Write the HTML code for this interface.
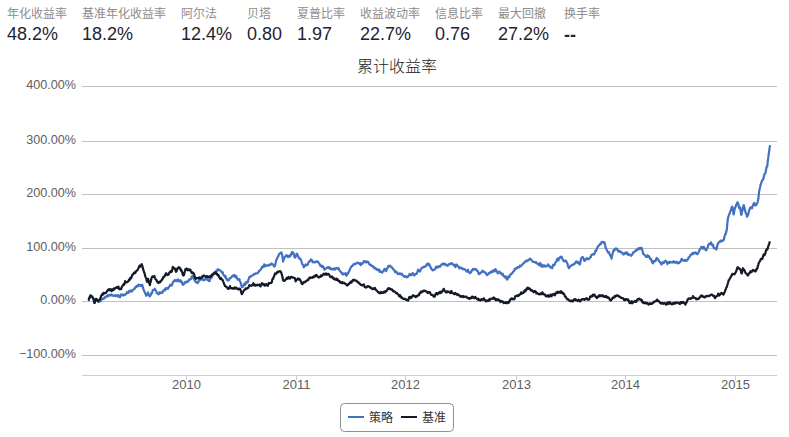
<!DOCTYPE html>
<html><head><meta charset="utf-8"><style>
html,body{margin:0;padding:0;background:#fff;width:789px;height:437px;overflow:hidden;}
body{position:relative;font-family:"Liberation Sans","Noto Sans CJK SC",sans-serif;}
.st{position:absolute;top:0;}
.lb{position:absolute;top:5.5px;left:0;white-space:nowrap;font-size:12px;line-height:16px;color:#8c8c8c;}
.vl{position:absolute;top:23px;left:0;white-space:nowrap;font-size:18px;line-height:22px;color:#1f2430;}
svg{position:absolute;left:0;top:0;}
.gl{stroke:#c0c0c0;stroke-width:1;}
.tk{stroke:#c0d0e0;stroke-width:1;}
.yl{font-family:"Liberation Sans",sans-serif;font-size:12.6px;fill:#606060;text-anchor:end;}
.xl{font-family:"Liberation Sans",sans-serif;font-size:13px;fill:#606060;text-anchor:middle;}
.tt{font-family:"Liberation Sans","Noto Sans CJK SC",sans-serif;font-size:16px;font-weight:300;fill:#222;text-anchor:middle;}
.lg{font-family:"Liberation Sans","Noto Sans CJK SC",sans-serif;font-size:12px;fill:#333;}
</style></head><body>
<div class="st" style="left:7px"><div class="lb">年化收益率</div><div class="vl">48.2%</div></div>
<div class="st" style="left:82px"><div class="lb">基准年化收益率</div><div class="vl">18.2%</div></div>
<div class="st" style="left:181px"><div class="lb">阿尔法</div><div class="vl">12.4%</div></div>
<div class="st" style="left:247px"><div class="lb">贝塔</div><div class="vl">0.80</div></div>
<div class="st" style="left:297px"><div class="lb">夏普比率</div><div class="vl">1.97</div></div>
<div class="st" style="left:360px"><div class="lb">收益波动率</div><div class="vl">22.7%</div></div>
<div class="st" style="left:435px"><div class="lb">信息比率</div><div class="vl">0.76</div></div>
<div class="st" style="left:498px"><div class="lb">最大回撤</div><div class="vl">27.2%</div></div>
<div class="st" style="left:564px"><div class="lb">换手率</div><div class="vl"><span style="position:relative;top:1px;font-weight:bold">--</span></div></div>
<svg width="789" height="437" viewBox="0 0 789 437">
<text x="397" y="72" class="tt">累计收益率</text>
<line x1="82" x2="777" y1="86.5" y2="86.5" class="gl"/>
<line x1="82" x2="777" y1="141.5" y2="141.5" class="gl"/>
<line x1="82" x2="777" y1="194.5" y2="194.5" class="gl"/>
<line x1="82" x2="777" y1="248.5" y2="248.5" class="gl"/>
<line x1="82" x2="777" y1="301.5" y2="301.5" class="gl"/>
<line x1="82" x2="777" y1="355.5" y2="355.5" class="gl"/>
<line x1="82" x2="777" y1="375.5" y2="375.5" stroke="#c0d0e0" stroke-width="1"/>
<line x1="186.5" x2="186.5" y1="375" y2="380" class="tk"/>
<line x1="296.5" x2="296.5" y1="375" y2="380" class="tk"/>
<line x1="405.5" x2="405.5" y1="375" y2="380" class="tk"/>
<line x1="516.5" x2="516.5" y1="375" y2="380" class="tk"/>
<line x1="625.5" x2="625.5" y1="375" y2="380" class="tk"/>
<line x1="735.5" x2="735.5" y1="375" y2="380" class="tk"/>
<text x="76" y="89.0" class="yl">400.00%</text>
<text x="76" y="144.0" class="yl">300.00%</text>
<text x="76" y="197.0" class="yl">200.00%</text>
<text x="76" y="251.0" class="yl">100.00%</text>
<text x="76" y="304.0" class="yl">0.00%</text>
<text x="76" y="358.0" class="yl">−100.00%</text>
<text x="186.5" y="389" class="xl">2010</text>
<text x="296.5" y="389" class="xl">2011</text>
<text x="405.5" y="389" class="xl">2012</text>
<text x="516.5" y="389" class="xl">2013</text>
<text x="625.5" y="389" class="xl">2014</text>
<text x="735.5" y="389" class="xl">2015</text>
<polyline fill="none" stroke="#4371c2" stroke-width="2.2" stroke-linejoin="round" points="88.2,300.1 88.7,300.0 89.1,298.3 89.6,297.8 90.0,296.4 90.5,295.4 90.9,296.5 91.4,296.1 91.8,296.2 92.3,297.0 92.7,297.8 93.2,298.1 93.6,299.4 94.1,300.8 94.5,303.0 95.0,301.9 95.4,300.3 95.9,299.3 96.3,298.8 96.8,299.7 97.2,300.3 97.7,300.8 98.1,301.6 98.6,300.5 99.0,300.2 99.5,301.7 99.9,300.9 100.4,301.3 100.8,300.5 101.3,300.4 101.7,299.3 102.2,298.6 102.6,298.5 103.1,298.5 103.5,298.9 104.0,298.6 104.4,297.9 104.9,297.2 105.3,296.8 105.8,297.3 106.2,296.3 106.7,296.3 107.1,296.3 107.6,295.2 108.0,295.3 108.5,296.2 108.9,295.0 109.4,295.4 109.8,295.4 110.3,294.9 110.7,295.4 111.2,295.3 111.6,294.4 112.1,295.1 112.5,295.4 113.0,295.6 113.4,296.0 113.9,295.5 114.3,295.6 114.8,295.2 115.2,296.2 115.7,295.8 116.1,295.7 116.6,295.2 117.0,295.1 117.5,295.4 117.9,296.6 118.4,295.5 118.8,295.3 119.3,296.0 119.7,297.1 120.2,297.1 120.6,295.8 121.1,294.5 121.5,295.3 122.0,295.0 122.4,294.4 122.9,295.2 123.3,295.5 123.8,295.0 124.2,294.7 124.7,294.4 125.1,294.8 125.6,294.4 126.0,293.9 126.5,293.6 126.9,292.2 127.4,293.0 127.8,293.1 128.3,292.8 128.7,291.3 129.2,291.1 129.6,291.8 130.1,290.6 130.5,290.8 131.0,291.4 131.4,290.4 131.9,291.4 132.3,290.9 132.8,290.1 133.2,289.7 133.7,289.5 134.1,288.9 134.6,288.9 135.0,287.7 135.5,287.0 135.9,287.3 136.4,286.7 136.8,285.8 137.3,286.1 137.7,286.4 138.2,285.4 138.6,284.6 139.1,284.9 139.5,285.0 140.0,285.0 140.4,286.0 140.9,285.1 141.3,285.9 141.8,284.9 142.2,284.7 142.7,286.4 143.1,288.2 143.6,289.6 144.0,290.7 144.5,291.7 144.9,292.7 145.4,293.9 145.8,294.6 146.3,295.8 146.7,295.1 147.2,293.8 147.6,293.1 148.1,292.4 148.5,294.5 149.0,295.4 149.4,296.0 149.9,296.4 150.3,295.4 150.8,294.9 151.2,293.4 151.7,292.8 152.1,293.1 152.6,290.6 153.0,289.9 153.5,290.1 153.9,289.9 154.4,289.5 154.8,288.7 155.3,289.7 155.7,290.4 156.2,290.8 156.6,292.9 157.1,293.2 157.5,293.3 158.0,293.9 158.4,294.3 158.9,294.0 159.3,292.3 159.8,292.5 160.2,293.3 160.7,292.3 161.1,292.3 161.6,292.7 162.0,292.7 162.5,292.8 162.9,290.9 163.4,290.6 163.8,290.2 164.3,290.4 164.7,290.6 165.2,288.5 165.6,289.5 166.1,288.4 166.5,289.0 167.0,287.9 167.4,288.2 167.9,288.8 168.3,287.9 168.8,287.2 169.2,286.7 169.7,285.8 170.1,284.9 170.6,285.6 171.0,285.5 171.5,284.7 171.9,285.4 172.4,283.2 172.8,282.8 173.3,281.7 173.7,281.1 174.2,280.8 174.6,280.1 175.1,280.8 175.5,280.3 176.0,280.3 176.4,281.3 176.9,280.6 177.3,280.0 177.8,279.3 178.2,280.3 178.7,280.8 179.1,281.5 179.6,280.5 180.0,280.7 180.5,280.2 180.9,281.2 181.4,282.4 181.8,281.7 182.3,283.5 182.7,284.5 183.2,284.8 183.6,283.6 184.1,284.0 184.5,283.1 185.0,282.0 185.4,282.1 185.9,282.1 186.3,282.5 186.8,281.3 187.2,281.6 187.7,281.8 188.1,281.7 188.6,280.6 189.0,279.6 189.5,279.9 189.9,279.3 190.4,278.9 190.8,279.3 191.3,278.3 191.7,276.6 192.2,276.7 192.6,275.7 193.1,277.6 193.5,278.6 194.0,279.0 194.4,279.8 194.9,280.8 195.3,281.1 195.8,282.1 196.2,281.7 196.7,282.2 197.1,282.8 197.6,283.2 198.0,281.9 198.5,281.9 198.9,280.2 199.4,279.6 199.8,278.7 200.3,279.9 200.7,279.2 201.2,279.5 201.6,279.5 202.1,279.5 202.5,279.1 203.0,279.3 203.4,280.3 203.9,279.7 204.3,279.6 204.8,279.8 205.2,279.2 205.7,278.2 206.1,278.2 206.6,279.4 207.0,278.7 207.5,279.0 207.9,280.3 208.4,280.8 208.8,280.7 209.3,281.2 209.7,280.9 210.2,279.3 210.6,278.0 211.1,277.4 211.5,277.8 212.0,276.9 212.4,275.9 212.9,275.3 213.3,274.2 213.8,274.2 214.2,273.3 214.7,273.5 215.1,271.8 215.6,272.2 216.0,271.6 216.5,270.4 216.9,271.1 217.4,270.8 217.8,269.4 218.3,269.3 218.7,269.9 219.2,269.8 219.6,270.3 220.1,270.5 220.5,270.6 221.0,271.0 221.4,271.9 221.9,272.2 222.3,272.8 222.8,272.3 223.2,274.1 223.7,275.5 224.1,275.4 224.6,275.5 225.0,277.1 225.5,276.0 225.9,277.2 226.4,279.3 226.8,278.9 227.3,279.7 227.7,280.6 228.2,280.1 228.6,280.3 229.1,280.0 229.5,278.6 230.0,278.1 230.4,277.9 230.9,278.0 231.3,277.4 231.8,276.8 232.2,275.9 232.7,275.7 233.1,276.1 233.6,275.7 234.0,275.1 234.5,274.9 234.9,276.9 235.4,277.1 235.8,277.4 236.3,276.1 236.7,277.5 237.2,278.4 237.6,279.6 238.1,279.6 238.5,279.6 239.0,280.0 239.4,279.1 239.9,281.0 240.3,282.2 240.8,282.7 241.2,284.7 241.7,286.9 242.1,287.1 242.6,287.0 243.0,286.5 243.5,285.7 243.9,284.6 244.4,283.7 244.8,284.8 245.3,284.7 245.7,283.2 246.2,282.0 246.6,282.7 247.1,282.4 247.5,282.4 248.0,281.4 248.4,279.6 248.9,278.9 249.3,277.0 249.8,276.7 250.2,276.7 250.7,276.8 251.1,275.9 251.6,275.6 252.0,275.6 252.5,275.4 252.9,275.3 253.4,274.9 253.8,274.2 254.3,274.5 254.7,274.3 255.2,273.6 255.6,273.3 256.1,273.5 256.5,273.5 257.0,273.4 257.4,273.1 257.9,272.9 258.3,272.5 258.8,271.1 259.2,270.9 259.7,270.8 260.1,270.1 260.6,269.4 261.0,269.2 261.5,268.2 261.9,267.0 262.4,267.3 262.8,266.6 263.3,267.0 263.7,266.0 264.2,264.4 264.6,264.7 265.1,266.3 265.5,266.0 266.0,265.4 266.4,265.3 266.9,265.7 267.3,265.7 267.8,265.3 268.2,265.7 268.7,265.3 269.1,264.6 269.6,264.5 270.0,265.0 270.5,264.7 270.9,264.5 271.4,263.5 271.8,263.7 272.3,264.3 272.7,264.2 273.2,265.0 273.6,265.7 274.1,266.5 274.5,266.0 275.0,265.7 275.4,264.0 275.9,261.6 276.3,259.8 276.8,259.6 277.2,257.9 277.7,257.3 278.1,256.7 278.6,255.5 279.0,254.1 279.5,253.8 279.9,253.4 280.4,253.5 280.8,253.1 281.3,252.3 281.7,253.7 282.2,254.8 282.6,257.8 283.1,261.6 283.5,260.0 284.0,259.0 284.4,257.5 284.9,256.9 285.3,256.7 285.8,255.6 286.2,255.8 286.7,255.2 287.1,255.6 287.6,256.6 288.0,257.1 288.5,257.0 288.9,256.5 289.4,255.5 289.8,256.6 290.3,256.0 290.7,255.6 291.2,253.9 291.6,253.1 292.1,252.1 292.5,253.2 293.0,253.9 293.4,252.8 293.9,254.5 294.3,256.6 294.8,257.1 295.2,257.7 295.7,256.5 296.1,255.5 296.6,253.8 297.0,253.7 297.5,254.8 297.9,255.8 298.4,256.7 298.8,257.9 299.3,258.7 299.7,258.2 300.2,258.7 300.6,259.3 301.1,260.1 301.5,261.6 302.0,262.9 302.4,264.5 302.9,264.7 303.3,265.7 303.8,267.3 304.2,266.7 304.7,266.0 305.1,265.4 305.6,264.5 306.0,265.2 306.5,265.3 306.9,265.1 307.4,264.7 307.8,264.7 308.3,262.6 308.7,262.1 309.2,262.0 309.6,260.8 310.1,260.9 310.5,260.6 311.0,259.4 311.4,259.6 311.9,260.3 312.3,261.4 312.8,262.3 313.2,262.3 313.7,261.8 314.1,261.9 314.6,262.0 315.0,262.5 315.5,262.5 315.9,261.9 316.4,261.3 316.8,261.5 317.3,261.5 317.7,261.4 318.2,262.3 318.6,262.8 319.1,263.5 319.5,264.3 320.0,264.3 320.4,265.9 320.9,265.4 321.3,266.2 321.8,266.4 322.2,267.2 322.7,265.9 323.1,266.4 323.6,267.4 324.0,268.3 324.5,269.8 324.9,269.0 325.4,268.9 325.8,268.5 326.3,268.3 326.7,268.1 327.2,267.6 327.6,267.8 328.1,267.0 328.5,267.8 329.0,267.1 329.4,267.6 329.9,268.9 330.3,268.3 330.8,268.2 331.2,269.2 331.7,269.3 332.1,269.1 332.6,269.5 333.0,269.5 333.5,269.5 333.9,268.4 334.4,269.3 334.8,269.7 335.3,268.9 335.7,268.6 336.2,268.0 336.6,268.7 337.1,268.1 337.5,268.6 338.0,268.2 338.4,268.0 338.9,269.0 339.3,270.4 339.8,270.7 340.2,270.9 340.7,272.0 341.1,272.2 341.6,272.8 342.0,273.9 342.5,274.2 342.9,273.3 343.4,274.4 343.8,273.8 344.3,274.1 344.7,273.7 345.2,273.9 345.6,273.2 346.1,275.0 346.5,275.8 347.0,274.9 347.4,274.3 347.9,272.8 348.3,273.1 348.8,271.8 349.2,270.9 349.7,269.9 350.1,269.1 350.6,267.7 351.0,267.3 351.5,266.1 351.9,266.0 352.4,265.9 352.8,265.6 353.3,264.9 353.7,264.1 354.2,264.1 354.6,263.6 355.1,264.3 355.5,264.1 356.0,263.6 356.4,263.2 356.9,262.9 357.3,262.6 357.8,262.7 358.2,263.1 358.7,263.3 359.1,263.4 359.6,264.2 360.0,263.2 360.5,263.3 360.9,265.1 361.4,263.5 361.8,263.7 362.3,263.8 362.7,263.2 363.2,262.6 363.6,261.6 364.1,261.1 364.5,261.3 365.0,262.1 365.4,261.3 365.9,261.6 366.3,262.4 366.8,261.9 367.2,261.5 367.7,262.2 368.1,261.8 368.6,262.7 369.0,263.7 369.5,264.2 369.9,264.9 370.4,265.1 370.8,264.6 371.3,265.2 371.7,265.9 372.2,265.9 372.6,266.2 373.1,267.0 373.5,266.5 374.0,267.3 374.4,268.4 374.9,267.8 375.3,268.0 375.8,268.2 376.2,269.3 376.7,269.4 377.1,270.0 377.6,269.5 378.0,269.8 378.5,270.2 378.9,269.5 379.4,271.2 379.8,271.8 380.3,270.9 380.7,271.9 381.2,271.9 381.6,272.3 382.1,272.6 382.5,271.7 383.0,271.4 383.4,271.5 383.9,270.0 384.3,269.2 384.8,268.9 385.2,268.9 385.7,269.8 386.1,271.1 386.6,269.8 387.0,268.5 387.5,268.4 387.9,267.0 388.4,265.9 388.8,265.8 389.3,266.3 389.7,265.8 390.2,265.7 390.6,266.5 391.1,267.1 391.5,266.9 392.0,267.6 392.4,268.0 392.9,268.9 393.3,269.3 393.8,269.8 394.2,270.0 394.7,271.2 395.1,272.1 395.6,271.7 396.0,272.4 396.5,271.9 396.9,272.3 397.4,273.1 397.8,274.0 398.3,273.6 398.7,273.7 399.2,274.0 399.6,273.3 400.1,273.8 400.5,273.7 401.0,274.4 401.4,274.0 401.9,273.6 402.3,274.6 402.8,275.4 403.2,275.5 403.7,276.4 404.1,276.3 404.6,276.2 405.0,276.9 405.5,276.2 405.9,276.4 406.4,276.7 406.8,277.3 407.3,276.9 407.7,276.9 408.2,276.1 408.6,275.5 409.1,275.5 409.5,273.9 410.0,275.4 410.4,274.5 410.9,274.5 411.3,274.6 411.8,275.1 412.2,274.0 412.7,272.9 413.1,273.8 413.6,274.3 414.0,274.4 414.5,275.5 414.9,274.8 415.4,274.2 415.8,274.0 416.3,273.5 416.7,273.8 417.2,272.1 417.6,271.6 418.1,269.5 418.5,270.6 419.0,270.4 419.4,270.8 419.9,271.5 420.3,270.5 420.8,269.6 421.2,268.8 421.7,268.0 422.1,267.5 422.6,267.7 423.0,267.2 423.5,266.9 423.9,266.6 424.4,266.9 424.8,266.7 425.3,266.1 425.7,266.2 426.2,265.6 426.6,264.4 427.1,265.0 427.5,264.6 428.0,263.4 428.4,264.4 428.9,264.8 429.3,264.2 429.8,265.8 430.2,266.3 430.7,267.6 431.1,268.4 431.6,269.1 432.0,269.3 432.5,270.4 432.9,270.2 433.4,269.9 433.8,270.0 434.3,269.8 434.7,269.7 435.2,268.8 435.6,268.3 436.1,266.7 436.5,266.6 437.0,266.9 437.4,267.5 437.9,266.7 438.3,266.3 438.8,267.0 439.2,266.1 439.7,266.2 440.1,266.5 440.6,265.6 441.0,265.7 441.5,264.5 441.9,264.3 442.4,263.9 442.8,263.6 443.3,263.9 443.7,264.6 444.2,263.6 444.6,263.5 445.1,264.3 445.5,264.1 446.0,265.0 446.4,265.4 446.9,265.2 447.3,265.7 447.8,264.8 448.2,265.5 448.7,264.3 449.1,264.0 449.6,263.8 450.0,263.7 450.5,264.1 450.9,263.8 451.4,263.2 451.8,263.2 452.3,264.0 452.7,264.0 453.2,264.4 453.6,265.3 454.1,265.4 454.5,264.9 455.0,266.7 455.4,267.0 455.9,264.7 456.3,264.5 456.8,264.5 457.2,265.4 457.7,266.2 458.1,266.5 458.6,266.5 459.0,267.5 459.5,268.4 459.9,267.8 460.4,267.6 460.8,268.2 461.3,267.6 461.7,268.3 462.2,268.5 462.6,269.2 463.1,269.0 463.5,268.8 464.0,269.0 464.4,269.4 464.9,269.3 465.3,269.7 465.8,270.3 466.2,271.0 466.7,271.6 467.1,270.6 467.6,270.7 468.0,269.8 468.5,272.0 468.9,271.9 469.4,272.5 469.8,273.3 470.3,272.8 470.7,272.7 471.2,272.0 471.6,270.4 472.1,270.4 472.5,270.5 473.0,268.8 473.4,269.4 473.9,269.3 474.3,269.3 474.8,269.1 475.2,269.4 475.7,268.9 476.1,269.8 476.6,269.9 477.0,270.8 477.5,270.7 477.9,271.5 478.4,273.3 478.8,273.9 479.3,274.2 479.7,273.9 480.2,273.0 480.6,272.8 481.1,272.7 481.5,272.1 482.0,271.5 482.4,270.7 482.9,271.6 483.3,271.3 483.8,271.3 484.2,272.2 484.7,272.4 485.1,272.4 485.6,272.7 486.0,273.4 486.5,274.5 486.9,275.2 487.4,274.5 487.8,274.5 488.3,274.2 488.7,273.2 489.2,273.4 489.6,272.7 490.1,272.2 490.5,272.4 491.0,272.7 491.4,271.6 491.9,271.6 492.3,270.7 492.8,271.9 493.2,270.8 493.7,271.1 494.1,270.2 494.6,270.5 495.0,271.3 495.5,269.1 495.9,269.8 496.4,271.0 496.8,271.5 497.3,271.8 497.7,273.4 498.2,273.0 498.6,271.8 499.1,272.6 499.5,271.6 500.0,272.7 500.4,272.4 500.9,273.1 501.3,274.2 501.8,274.4 502.2,273.9 502.7,273.7 503.1,275.4 503.6,276.1 504.0,275.8 504.5,276.7 504.9,277.1 505.4,277.6 505.8,276.5 506.3,277.5 506.7,279.0 507.2,279.7 507.6,279.2 508.1,276.7 508.5,276.5 509.0,276.3 509.4,277.1 509.9,275.4 510.3,274.6 510.8,274.2 511.2,274.3 511.7,273.4 512.1,273.5 512.6,272.3 513.0,272.1 513.5,271.3 513.9,271.1 514.4,270.2 514.8,268.9 515.3,269.5 515.7,269.1 516.2,268.1 516.6,267.8 517.1,268.1 517.5,267.2 518.0,267.1 518.4,267.4 518.9,267.5 519.3,267.0 519.8,265.6 520.2,266.5 520.7,266.3 521.1,265.8 521.6,265.3 522.0,265.1 522.5,264.5 522.9,263.7 523.4,263.3 523.8,263.0 524.3,262.7 524.7,262.0 525.2,261.9 525.6,260.9 526.1,261.3 526.5,260.5 527.0,260.6 527.4,261.1 527.9,260.5 528.3,259.8 528.8,259.8 529.2,259.8 529.7,258.7 530.1,258.7 530.6,259.2 531.0,259.3 531.5,259.9 531.9,260.7 532.4,261.2 532.8,261.8 533.3,262.0 533.7,261.8 534.2,262.0 534.6,262.1 535.1,262.3 535.5,262.6 536.0,262.1 536.4,262.8 536.9,263.5 537.3,263.5 537.8,263.8 538.2,264.3 538.7,264.2 539.1,265.3 539.6,263.3 540.0,263.7 540.5,263.2 540.9,264.7 541.4,266.6 541.8,264.8 542.3,265.6 542.7,266.3 543.2,266.2 543.6,266.5 544.1,265.2 544.5,266.2 545.0,266.4 545.4,266.4 545.9,265.9 546.3,266.3 546.8,265.8 547.2,265.9 547.7,265.5 548.1,264.3 548.6,265.1 549.0,265.9 549.5,266.7 549.9,266.4 550.4,266.9 550.8,267.7 551.3,267.7 551.7,267.8 552.2,268.1 552.6,266.4 553.1,264.7 553.5,265.1 554.0,265.4 554.4,264.8 554.9,264.2 555.3,262.8 555.8,261.8 556.2,261.8 556.7,260.6 557.1,259.1 557.6,258.7 558.0,260.2 558.5,260.4 558.9,258.8 559.4,257.8 559.8,257.6 560.3,256.8 560.7,257.5 561.2,257.0 561.6,256.6 562.1,258.5 562.5,258.8 563.0,259.9 563.4,260.8 563.9,260.9 564.3,261.5 564.8,261.3 565.2,260.8 565.7,260.5 566.1,261.2 566.6,262.0 567.0,263.0 567.5,263.8 567.9,265.6 568.4,267.2 568.8,268.2 569.3,267.9 569.7,266.3 570.2,266.2 570.6,266.1 571.1,265.8 571.5,265.3 572.0,264.9 572.4,265.1 572.9,264.6 573.3,264.6 573.8,264.3 574.2,263.8 574.7,263.9 575.1,262.8 575.6,262.2 576.0,261.6 576.5,261.3 576.9,262.4 577.4,263.0 577.8,262.3 578.3,262.2 578.7,262.7 579.2,263.6 579.6,264.6 580.1,263.8 580.5,261.1 581.0,259.2 581.4,257.8 581.9,257.6 582.3,257.0 582.8,257.1 583.2,257.8 583.7,258.5 584.1,260.6 584.6,260.9 585.0,260.0 585.5,260.2 585.9,259.2 586.4,258.8 586.8,258.1 587.3,258.4 587.7,259.2 588.2,259.2 588.6,259.3 589.1,258.7 589.5,258.5 590.0,257.5 590.4,257.0 590.9,256.9 591.3,255.0 591.8,254.8 592.2,254.8 592.7,254.2 593.1,254.0 593.6,254.1 594.0,254.5 594.5,253.6 594.9,252.6 595.4,250.7 595.8,251.3 596.3,250.2 596.7,249.3 597.2,247.8 597.6,247.3 598.1,246.2 598.5,245.9 599.0,245.6 599.4,244.9 599.9,244.6 600.3,243.6 600.8,244.1 601.2,243.1 601.7,242.0 602.1,242.3 602.6,242.1 603.0,241.9 603.5,242.3 603.9,242.9 604.4,242.4 604.8,243.2 605.3,246.0 605.7,247.8 606.2,248.6 606.6,249.7 607.1,250.7 607.5,251.3 608.0,252.4 608.4,252.8 608.9,252.1 609.3,253.5 609.8,254.1 610.2,255.6 610.7,255.9 611.1,256.7 611.6,258.6 612.0,256.1 612.5,254.1 612.9,252.3 613.4,250.8 613.8,250.0 614.3,250.5 614.7,249.9 615.2,248.9 615.6,248.4 616.1,249.2 616.5,248.6 617.0,248.8 617.4,249.5 617.9,250.5 618.3,251.5 618.8,251.5 619.2,251.0 619.7,250.9 620.1,251.7 620.6,252.3 621.0,251.8 621.5,252.3 621.9,252.6 622.4,253.3 622.8,253.9 623.3,254.3 623.7,254.5 624.2,253.2 624.6,253.7 625.1,253.6 625.5,252.6 626.0,253.5 626.4,253.7 626.9,252.3 627.3,253.8 627.8,254.2 628.2,255.1 628.7,253.9 629.1,254.4 629.6,254.7 630.0,254.8 630.5,255.0 630.9,255.8 631.4,255.0 631.8,254.9 632.3,254.5 632.7,253.4 633.2,252.4 633.6,252.6 634.1,252.4 634.5,251.9 635.0,251.1 635.4,250.5 635.9,250.8 636.3,250.6 636.8,249.9 637.2,249.1 637.7,249.6 638.1,248.4 638.6,248.2 639.0,248.8 639.5,248.3 639.9,248.8 640.4,248.0 640.8,248.8 641.3,248.9 641.7,247.9 642.2,249.9 642.6,251.1 643.1,253.7 643.5,253.9 644.0,254.3 644.4,255.0 644.9,255.2 645.3,255.9 645.8,256.0 646.2,257.0 646.7,257.0 647.1,256.9 647.6,255.2 648.0,256.5 648.5,256.7 648.9,256.2 649.4,257.2 649.8,258.1 650.3,259.1 650.7,258.7 651.2,260.1 651.6,260.3 652.1,262.6 652.5,262.8 653.0,263.4 653.4,262.3 653.9,261.0 654.3,261.3 654.8,261.1 655.2,261.2 655.7,260.6 656.1,259.3 656.6,258.0 657.0,258.4 657.5,258.7 657.9,259.0 658.4,260.1 658.8,260.9 659.3,261.2 659.7,261.9 660.2,262.4 660.6,263.0 661.1,263.8 661.5,264.5 662.0,263.4 662.4,262.3 662.9,263.1 663.3,262.7 663.8,263.0 664.2,261.5 664.7,261.4 665.1,261.5 665.6,260.6 666.0,261.1 666.5,262.2 666.9,263.1 667.4,264.0 667.8,262.9 668.3,262.0 668.7,262.5 669.2,262.9 669.6,262.7 670.1,261.7 670.5,262.3 671.0,262.5 671.4,262.5 671.9,262.0 672.3,262.1 672.8,262.5 673.2,262.0 673.7,261.1 674.1,261.9 674.6,262.5 675.0,262.4 675.5,262.8 675.9,262.1 676.4,261.9 676.8,261.8 677.3,262.4 677.7,263.3 678.2,262.6 678.6,263.2 679.1,263.1 679.5,262.4 680.0,261.8 680.4,261.9 680.9,260.6 681.3,259.8 681.8,258.8 682.2,259.5 682.7,260.5 683.1,260.6 683.6,260.7 684.0,260.4 684.5,260.6 684.9,259.8 685.4,260.9 685.8,260.8 686.3,260.6 686.7,260.7 687.2,259.7 687.6,259.7 688.1,259.3 688.5,257.4 689.0,257.2 689.4,257.2 689.9,256.2 690.3,255.1 690.8,254.7 691.2,254.5 691.7,254.7 692.1,254.3 692.6,253.0 693.0,253.6 693.5,252.9 693.9,253.8 694.4,253.1 694.8,252.8 695.3,252.5 695.7,252.4 696.2,253.2 696.6,253.7 697.1,254.1 697.5,254.2 698.0,253.5 698.4,252.8 698.9,251.6 699.3,250.2 699.8,249.8 700.2,248.7 700.7,248.2 701.1,247.7 701.6,246.7 702.0,247.5 702.5,248.6 702.9,248.6 703.4,248.0 703.8,246.8 704.3,247.9 704.7,249.1 705.2,249.3 705.6,249.8 706.1,250.4 706.5,249.8 707.0,248.1 707.4,247.6 707.9,246.8 708.3,244.7 708.8,244.5 709.2,243.7 709.7,243.9 710.1,244.3 710.6,243.4 711.0,242.4 711.5,244.1 711.9,244.6 712.4,245.6 712.8,244.7 713.3,245.9 713.7,247.4 714.2,248.4 714.6,248.0 715.1,248.4 715.5,248.3 716.0,249.0 716.4,249.5 716.9,247.8 717.3,245.3 717.8,244.3 718.2,243.0 718.7,242.7 719.1,242.0 719.6,242.0 720.0,241.5 720.5,240.7 720.9,240.7 721.4,241.5 721.8,240.6 722.3,240.6 722.7,240.7 723.2,240.7 723.6,240.1 724.1,238.7 724.5,236.3 725.0,235.1 725.4,233.6 725.9,233.6 726.3,231.1 726.8,230.2 727.2,224.8 727.7,220.2 728.1,217.3 728.6,216.3 729.0,214.9 729.5,213.8 729.9,213.0 730.4,211.3 730.8,210.6 731.3,208.9 731.7,207.4 732.2,206.6 732.6,207.5 733.1,210.7 733.5,214.4 734.0,213.4 734.4,209.9 734.9,208.3 735.3,207.0 735.8,206.6 736.2,204.7 736.7,204.4 737.1,203.2 737.6,202.2 738.0,203.7 738.5,204.5 738.9,207.0 739.4,208.3 739.8,208.3 740.3,207.5 740.7,211.3 741.2,214.9 741.6,214.4 742.1,211.5 742.5,210.2 743.0,207.6 743.4,205.6 743.9,205.2 744.3,207.4 744.8,209.3 745.2,210.9 745.7,212.9 746.1,213.4 746.6,214.8 747.0,216.7 747.5,216.0 747.9,215.0 748.4,214.1 748.8,211.3 749.3,210.0 749.7,209.0 750.2,207.7 750.6,208.4 751.1,207.3 751.5,207.8 752.0,208.4 752.4,206.5 752.9,205.8 753.3,204.2 753.8,204.2 754.2,202.9 754.7,204.1 755.1,205.4 755.6,205.5 756.0,204.9 756.5,204.7 756.9,203.5 757.4,202.8 757.8,201.3 758.3,199.1 758.7,195.5 759.2,190.7 759.6,189.2 760.1,187.2 760.5,184.8 761.0,184.0 761.4,182.5 761.9,180.9 762.3,180.1 762.8,180.1 763.2,179.0 763.7,177.4 764.1,175.3 764.6,173.8 765.0,173.9 765.5,172.7 765.9,170.6 766.4,168.1 766.8,166.4 767.3,166.3 767.7,161.7 768.2,158.2 768.6,154.8 769.1,151.6 769.5,148.5 770.1,145.2"/>
<polyline fill="none" stroke="#131a26" stroke-width="2.2" stroke-linejoin="round" points="88.2,300.1 88.7,300.0 89.1,298.3 89.6,297.8 90.0,296.4 90.5,295.4 90.9,296.5 91.4,296.1 91.8,296.2 92.3,297.0 92.7,297.8 93.2,298.1 93.6,299.4 94.1,300.8 94.5,303.0 95.0,301.9 95.4,300.3 95.9,299.3 96.3,298.8 96.8,299.7 97.2,300.3 97.7,300.8 98.1,301.6 98.6,300.5 99.0,300.2 99.5,299.8 99.9,299.3 100.4,297.8 100.8,297.1 101.3,295.6 101.7,295.4 102.2,294.1 102.6,293.6 103.1,294.5 103.5,292.9 104.0,293.6 104.4,293.5 104.9,292.9 105.3,292.9 105.8,292.7 106.2,292.7 106.7,291.8 107.1,291.0 107.6,290.4 108.0,289.7 108.5,289.8 108.9,289.5 109.4,290.3 109.8,289.1 110.3,289.5 110.7,290.1 111.2,289.5 111.6,291.1 112.1,289.4 112.5,289.4 113.0,289.1 113.4,290.1 113.9,288.5 114.3,289.3 114.8,288.5 115.2,288.2 115.7,287.6 116.1,287.9 116.6,287.0 117.0,287.0 117.5,287.2 117.9,288.0 118.4,286.6 118.8,288.3 119.3,289.1 119.7,288.7 120.2,289.1 120.6,289.1 121.1,289.2 121.5,288.0 122.0,286.7 122.4,285.9 122.9,285.4 123.3,284.8 123.8,283.9 124.2,284.8 124.7,283.1 125.1,281.1 125.6,281.9 126.0,282.2 126.5,282.5 126.9,282.2 127.4,281.9 127.8,281.6 128.3,281.4 128.7,280.3 129.2,279.4 129.6,280.0 130.1,279.2 130.5,277.6 131.0,278.3 131.4,277.6 131.9,276.1 132.3,274.7 132.8,274.7 133.2,274.0 133.7,273.3 134.1,272.6 134.6,272.6 135.0,273.2 135.5,272.6 135.9,271.2 136.4,271.2 136.8,270.5 137.3,270.3 137.7,269.9 138.2,268.7 138.6,267.6 139.1,266.8 139.5,265.6 140.0,266.2 140.4,266.7 140.9,265.9 141.3,264.9 141.8,264.2 142.2,265.7 142.7,267.3 143.1,269.2 143.6,270.7 144.0,272.1 144.5,272.9 144.9,275.1 145.4,276.6 145.8,277.5 146.3,278.4 146.7,281.0 147.2,281.8 147.6,280.0 148.1,278.8 148.5,280.3 149.0,282.6 149.4,283.7 149.9,285.1 150.3,282.8 150.8,281.4 151.2,279.2 151.7,277.8 152.1,276.7 152.6,276.5 153.0,276.4 153.5,276.8 153.9,276.6 154.4,276.0 154.8,277.3 155.3,278.7 155.7,279.2 156.2,279.7 156.6,280.2 157.1,281.5 157.5,282.3 158.0,282.2 158.4,283.0 158.9,282.4 159.3,281.7 159.8,282.3 160.2,282.2 160.7,281.1 161.1,280.8 161.6,280.5 162.0,279.4 162.5,278.8 162.9,278.6 163.4,276.9 163.8,276.8 164.3,276.7 164.7,276.2 165.2,274.6 165.6,274.3 166.1,273.2 166.5,273.6 167.0,274.5 167.4,275.1 167.9,275.1 168.3,274.6 168.8,274.3 169.2,272.8 169.7,272.3 170.1,271.7 170.6,271.1 171.0,272.1 171.5,271.2 171.9,271.4 172.4,268.7 172.8,266.9 173.3,267.8 173.7,268.3 174.2,268.2 174.6,268.3 175.1,268.7 175.5,270.4 176.0,271.8 176.4,271.7 176.9,270.3 177.3,268.4 177.8,268.4 178.2,267.6 178.7,267.3 179.1,267.3 179.6,267.5 180.0,268.9 180.5,268.7 180.9,270.4 181.4,270.0 181.8,271.8 182.3,272.4 182.7,274.6 183.2,275.5 183.6,275.4 184.1,274.4 184.5,272.5 185.0,270.8 185.4,269.2 185.9,269.9 186.3,268.7 186.8,268.5 187.2,269.0 187.7,270.4 188.1,269.2 188.6,269.8 189.0,269.8 189.5,270.3 189.9,269.4 190.4,269.7 190.8,270.8 191.3,272.0 191.7,272.9 192.2,272.2 192.6,272.8 193.1,273.2 193.5,273.1 194.0,273.7 194.4,275.9 194.9,277.3 195.3,278.1 195.8,278.8 196.2,277.9 196.7,278.3 197.1,278.2 197.6,278.0 198.0,278.1 198.5,277.8 198.9,277.6 199.4,277.4 199.8,278.5 200.3,277.9 200.7,278.4 201.2,278.1 201.6,277.2 202.1,277.3 202.5,276.2 203.0,276.6 203.4,275.8 203.9,275.5 204.3,275.7 204.8,276.1 205.2,276.4 205.7,276.8 206.1,276.5 206.6,276.0 207.0,276.7 207.5,276.9 207.9,276.4 208.4,277.3 208.8,277.3 209.3,276.7 209.7,277.0 210.2,276.1 210.6,275.9 211.1,276.4 211.5,275.2 212.0,275.1 212.4,274.1 212.9,274.4 213.3,273.5 213.8,273.6 214.2,272.6 214.7,272.7 215.1,273.3 215.6,273.5 216.0,272.5 216.5,273.7 216.9,274.4 217.4,274.1 217.8,275.4 218.3,275.0 218.7,275.6 219.2,276.9 219.6,277.9 220.1,278.8 220.5,278.3 221.0,278.0 221.4,279.4 221.9,279.2 222.3,280.0 222.8,280.0 223.2,281.6 223.7,282.7 224.1,283.9 224.6,284.9 225.0,286.0 225.5,286.1 225.9,286.6 226.4,287.0 226.8,287.4 227.3,287.3 227.7,288.7 228.2,288.6 228.6,288.8 229.1,288.7 229.5,287.3 230.0,286.1 230.4,287.7 230.9,287.9 231.3,288.2 231.8,288.2 232.2,288.6 232.7,288.2 233.1,288.7 233.6,288.5 234.0,288.6 234.5,287.4 234.9,288.4 235.4,288.6 235.8,287.6 236.3,287.6 236.7,288.1 237.2,288.7 237.6,288.6 238.1,289.4 238.5,289.2 239.0,288.6 239.4,288.5 239.9,289.4 240.3,289.2 240.8,290.6 241.2,292.5 241.7,294.1 242.1,294.1 242.6,292.9 243.0,292.1 243.5,291.1 243.9,290.6 244.4,289.7 244.8,289.6 245.3,289.1 245.7,288.4 246.2,288.7 246.6,288.8 247.1,288.1 247.5,288.3 248.0,287.9 248.4,287.5 248.9,286.3 249.3,285.1 249.8,285.6 250.2,285.6 250.7,285.7 251.1,285.5 251.6,285.8 252.0,285.1 252.5,285.2 252.9,284.3 253.4,283.2 253.8,283.9 254.3,285.4 254.7,284.5 255.2,285.7 255.6,285.3 256.1,285.1 256.5,285.2 257.0,285.3 257.4,284.7 257.9,284.9 258.3,285.1 258.8,285.4 259.2,284.6 259.7,285.4 260.1,285.9 260.6,286.4 261.0,284.6 261.5,284.4 261.9,283.1 262.4,283.7 262.8,284.5 263.3,284.1 263.7,283.8 264.2,284.8 264.6,285.7 265.1,285.3 265.5,285.3 266.0,284.1 266.4,284.5 266.9,285.1 267.3,285.2 267.8,285.8 268.2,284.5 268.7,283.0 269.1,283.6 269.6,283.1 270.0,283.0 270.5,283.0 270.9,282.7 271.4,282.8 271.8,282.2 272.3,279.6 272.7,278.7 273.2,278.8 273.6,277.0 274.1,276.4 274.5,275.0 275.0,273.5 275.4,274.2 275.9,274.0 276.3,273.1 276.8,273.1 277.2,272.0 277.7,271.6 278.1,272.3 278.6,272.1 279.0,271.3 279.5,271.4 279.9,271.1 280.4,271.3 280.8,271.7 281.3,272.8 281.7,274.2 282.2,276.0 282.6,277.7 283.1,280.1 283.5,280.8 284.0,281.0 284.4,280.7 284.9,280.1 285.3,280.2 285.8,279.3 286.2,279.1 286.7,277.9 287.1,277.9 287.6,278.8 288.0,277.8 288.5,277.0 288.9,277.3 289.4,278.3 289.8,278.6 290.3,277.7 290.7,277.1 291.2,277.0 291.6,276.8 292.1,277.4 292.5,277.7 293.0,277.3 293.4,277.6 293.9,278.0 294.3,277.9 294.8,278.1 295.2,279.7 295.7,281.4 296.1,280.5 296.6,279.6 297.0,279.5 297.5,278.8 297.9,278.5 298.4,279.6 298.8,278.9 299.3,278.9 299.7,279.4 300.2,279.9 300.6,280.7 301.1,281.9 301.5,283.3 302.0,283.8 302.4,284.1 302.9,283.2 303.3,282.9 303.8,282.1 304.2,281.9 304.7,282.4 305.1,282.1 305.6,281.6 306.0,281.0 306.5,280.9 306.9,280.8 307.4,280.0 307.8,279.6 308.3,280.0 308.7,278.7 309.2,278.4 309.6,277.4 310.1,278.2 310.5,277.7 311.0,277.7 311.4,277.7 311.9,277.8 312.3,277.8 312.8,276.9 313.2,277.2 313.7,277.4 314.1,276.2 314.6,276.7 315.0,276.7 315.5,275.3 315.9,275.1 316.4,274.9 316.8,275.4 317.3,276.5 317.7,276.4 318.2,277.1 318.6,277.2 319.1,277.5 319.5,277.1 320.0,276.7 320.4,276.8 320.9,275.4 321.3,276.3 321.8,276.0 322.2,275.3 322.7,275.3 323.1,274.4 323.6,273.7 324.0,274.2 324.5,274.0 324.9,274.7 325.4,274.1 325.8,273.6 326.3,273.4 326.7,274.8 327.2,274.4 327.6,274.2 328.1,274.0 328.5,273.9 329.0,274.5 329.4,275.3 329.9,276.3 330.3,277.1 330.8,277.2 331.2,277.0 331.7,277.0 332.1,276.4 332.6,277.1 333.0,278.4 333.5,278.5 333.9,279.0 334.4,278.4 334.8,279.4 335.3,279.6 335.7,279.6 336.2,279.9 336.6,278.6 337.1,279.0 337.5,279.0 338.0,280.8 338.4,280.7 338.9,280.6 339.3,281.5 339.8,281.2 340.2,282.6 340.7,282.4 341.1,282.7 341.6,282.4 342.0,283.2 342.5,282.1 342.9,283.1 343.4,282.8 343.8,283.2 344.3,282.8 344.7,283.4 345.2,283.7 345.6,284.1 346.1,284.2 346.5,284.7 347.0,285.5 347.4,285.3 347.9,285.0 348.3,284.1 348.8,284.2 349.2,283.3 349.7,283.2 350.1,282.7 350.6,281.7 351.0,282.1 351.5,282.6 351.9,281.6 352.4,280.6 352.8,280.0 353.3,280.6 353.7,280.0 354.2,279.6 354.6,280.3 355.1,280.4 355.5,280.7 356.0,280.5 356.4,280.5 356.9,281.2 357.3,281.7 357.8,282.3 358.2,282.2 358.7,282.8 359.1,283.3 359.6,283.4 360.0,283.9 360.5,284.7 360.9,284.8 361.4,285.1 361.8,284.9 362.3,285.4 362.7,285.2 363.2,284.9 363.6,284.4 364.1,284.9 364.5,286.8 365.0,286.9 365.4,287.1 365.9,287.6 366.3,287.4 366.8,287.2 367.2,286.5 367.7,286.0 368.1,286.1 368.6,286.5 369.0,286.7 369.5,286.7 369.9,287.4 370.4,287.1 370.8,288.2 371.3,288.2 371.7,288.4 372.2,288.9 372.6,289.2 373.1,288.3 373.5,288.5 374.0,289.1 374.4,288.7 374.9,287.9 375.3,288.9 375.8,289.5 376.2,290.2 376.7,290.5 377.1,290.9 377.6,291.3 378.0,292.3 378.5,292.5 378.9,292.8 379.4,292.5 379.8,293.2 380.3,292.9 380.7,293.3 381.2,292.0 381.6,292.7 382.1,292.8 382.5,292.3 383.0,292.9 383.4,292.6 383.9,292.0 384.3,291.4 384.8,292.4 385.2,292.2 385.7,291.9 386.1,290.9 386.6,291.0 387.0,290.3 387.5,289.1 387.9,289.0 388.4,288.1 388.8,288.9 389.3,288.3 389.7,289.1 390.2,289.0 390.6,288.9 391.1,289.4 391.5,289.7 392.0,289.4 392.4,290.1 392.9,291.1 393.3,291.3 393.8,291.0 394.2,291.5 394.7,291.6 395.1,292.0 395.6,292.6 396.0,293.1 396.5,293.4 396.9,292.9 397.4,293.8 397.8,294.2 398.3,294.4 398.7,295.0 399.2,296.4 399.6,295.5 400.1,295.1 400.5,296.4 401.0,296.5 401.4,297.9 401.9,297.5 402.3,297.6 402.8,298.4 403.2,298.9 403.7,299.0 404.1,299.1 404.6,298.9 405.0,298.8 405.5,298.9 405.9,299.8 406.4,300.0 406.8,299.9 407.3,300.0 407.7,300.4 408.2,300.6 408.6,298.9 409.1,297.6 409.5,296.8 410.0,298.2 410.4,297.7 410.9,298.1 411.3,296.9 411.8,297.3 412.2,296.1 412.7,295.5 413.1,295.3 413.6,295.3 414.0,295.9 414.5,296.4 414.9,296.6 415.4,296.1 415.8,297.2 416.3,296.4 416.7,296.0 417.2,296.4 417.6,295.8 418.1,295.2 418.5,294.7 419.0,295.2 419.4,293.7 419.9,292.9 420.3,293.0 420.8,291.7 421.2,291.5 421.7,292.3 422.1,291.6 422.6,291.5 423.0,291.5 423.5,290.6 423.9,291.1 424.4,290.9 424.8,290.6 425.3,291.0 425.7,291.3 426.2,291.4 426.6,291.3 427.1,292.2 427.5,292.8 428.0,292.9 428.4,292.6 428.9,292.0 429.3,292.1 429.8,292.2 430.2,293.1 430.7,294.1 431.1,294.8 431.6,294.8 432.0,294.7 432.5,295.2 432.9,295.5 433.4,296.1 433.8,296.7 434.3,295.7 434.7,296.6 435.2,294.7 435.6,293.9 436.1,293.3 436.5,293.1 437.0,293.3 437.4,294.5 437.9,293.4 438.3,293.7 438.8,292.9 439.2,292.8 439.7,291.9 440.1,293.2 440.6,292.4 441.0,291.6 441.5,292.6 441.9,291.8 442.4,291.3 442.8,290.6 443.3,289.7 443.7,288.8 444.2,289.4 444.6,291.0 445.1,291.4 445.5,291.5 446.0,292.3 446.4,291.5 446.9,292.3 447.3,292.0 447.8,291.4 448.2,291.9 448.7,292.1 449.1,291.8 449.6,292.0 450.0,292.6 450.5,293.2 450.9,292.3 451.4,291.0 451.8,293.0 452.3,292.9 452.7,292.8 453.2,293.4 453.6,293.3 454.1,294.2 454.5,293.3 455.0,293.4 455.4,292.9 455.9,294.1 456.3,293.8 456.8,294.4 457.2,295.0 457.7,294.1 458.1,294.4 458.6,295.2 459.0,295.3 459.5,295.4 459.9,296.1 460.4,296.6 460.8,296.1 461.3,296.2 461.7,296.8 462.2,296.8 462.6,296.7 463.1,296.0 463.5,297.2 464.0,296.7 464.4,296.7 464.9,296.7 465.3,296.8 465.8,297.0 466.2,296.5 466.7,297.1 467.1,297.8 467.6,297.8 468.0,298.1 468.5,298.1 468.9,297.9 469.4,298.9 469.8,298.0 470.3,298.1 470.7,298.4 471.2,298.1 471.6,297.1 472.1,296.6 472.5,297.7 473.0,297.0 473.4,297.4 473.9,298.0 474.3,298.1 474.8,297.3 475.2,296.9 475.7,297.8 476.1,298.0 476.6,298.5 477.0,299.1 477.5,299.5 477.9,299.0 478.4,298.7 478.8,300.2 479.3,300.2 479.7,300.1 480.2,299.7 480.6,300.5 481.1,299.6 481.5,299.1 482.0,299.5 482.4,299.4 482.9,299.9 483.3,299.4 483.8,298.3 484.2,299.0 484.7,299.8 485.1,300.0 485.6,301.1 486.0,301.4 486.5,300.8 486.9,301.2 487.4,300.8 487.8,300.3 488.3,300.9 488.7,299.5 489.2,300.2 489.6,300.5 490.1,298.9 490.5,299.1 491.0,299.2 491.4,298.6 491.9,298.6 492.3,298.4 492.8,298.7 493.2,298.4 493.7,297.4 494.1,298.6 494.6,299.1 495.0,298.5 495.5,299.3 495.9,300.4 496.4,299.2 496.8,299.3 497.3,299.4 497.7,300.1 498.2,300.0 498.6,299.4 499.1,300.6 499.5,300.4 500.0,300.9 500.4,302.1 500.9,301.1 501.3,300.8 501.8,301.5 502.2,301.3 502.7,301.6 503.1,301.6 503.6,303.2 504.0,303.0 504.5,302.8 504.9,302.7 505.4,302.9 505.8,302.0 506.3,302.4 506.7,303.2 507.2,302.6 507.6,303.0 508.1,302.7 508.5,301.7 509.0,302.5 509.4,301.6 509.9,300.6 510.3,299.5 510.8,299.2 511.2,298.7 511.7,298.4 512.1,298.3 512.6,299.3 513.0,299.1 513.5,299.1 513.9,298.8 514.4,299.3 514.8,297.6 515.3,296.2 515.7,296.3 516.2,296.2 516.6,295.9 517.1,295.3 517.5,295.6 518.0,296.2 518.4,295.6 518.9,294.9 519.3,295.3 519.8,294.5 520.2,294.0 520.7,293.9 521.1,292.4 521.6,293.8 522.0,293.3 522.5,293.3 522.9,293.1 523.4,292.9 523.8,291.3 524.3,291.7 524.7,290.8 525.2,290.0 525.6,291.3 526.1,289.4 526.5,289.4 527.0,288.9 527.4,287.7 527.9,289.0 528.3,287.9 528.8,288.4 529.2,288.6 529.7,288.9 530.1,288.7 530.6,290.2 531.0,290.5 531.5,290.1 531.9,290.1 532.4,291.0 532.8,290.8 533.3,291.8 533.7,292.3 534.2,292.1 534.6,291.2 535.1,291.1 535.5,291.9 536.0,291.9 536.4,293.4 536.9,293.0 537.3,293.3 537.8,293.8 538.2,293.8 538.7,294.0 539.1,294.4 539.6,293.8 540.0,293.8 540.5,293.3 540.9,294.3 541.4,293.7 541.8,294.1 542.3,292.4 542.7,293.1 543.2,293.3 543.6,294.2 544.1,294.5 544.5,294.4 545.0,294.7 545.4,295.6 545.9,296.2 546.3,295.7 546.8,296.4 547.2,295.7 547.7,296.0 548.1,295.2 548.6,295.8 549.0,296.8 549.5,295.8 549.9,296.1 550.4,294.8 550.8,294.6 551.3,296.3 551.7,295.7 552.2,295.7 552.6,294.4 553.1,294.5 553.5,294.0 554.0,294.7 554.4,294.0 554.9,295.3 555.3,293.8 555.8,293.7 556.2,292.3 556.7,292.3 557.1,293.1 557.6,292.7 558.0,291.7 558.5,292.2 558.9,292.6 559.4,292.5 559.8,292.7 560.3,291.4 560.7,292.5 561.2,292.8 561.6,291.5 562.1,293.2 562.5,293.0 563.0,293.7 563.4,293.2 563.9,294.1 564.3,294.2 564.8,296.2 565.2,296.6 565.7,296.7 566.1,297.3 566.6,298.6 567.0,298.5 567.5,299.5 567.9,299.4 568.4,299.3 568.8,300.3 569.3,300.6 569.7,300.8 570.2,301.3 570.6,300.7 571.1,300.4 571.5,301.1 572.0,301.3 572.4,301.3 572.9,301.4 573.3,300.0 573.8,300.0 574.2,299.2 574.7,299.4 575.1,300.0 575.6,299.2 576.0,300.3 576.5,300.1 576.9,300.3 577.4,300.3 577.8,301.0 578.3,300.6 578.7,299.7 579.2,300.6 579.6,300.9 580.1,301.4 580.5,301.2 581.0,299.9 581.4,299.8 581.9,299.4 582.3,299.0 582.8,299.1 583.2,299.4 583.7,299.1 584.1,299.2 584.6,299.9 585.0,299.0 585.5,299.1 585.9,298.5 586.4,298.2 586.8,298.3 587.3,298.8 587.7,299.7 588.2,299.3 588.6,299.6 589.1,299.6 589.5,299.0 590.0,296.6 590.4,297.0 590.9,296.9 591.3,296.0 591.8,295.9 592.2,296.4 592.7,294.9 593.1,294.6 593.6,295.5 594.0,294.6 594.5,294.6 594.9,295.5 595.4,296.4 595.8,297.0 596.3,297.2 596.7,298.2 597.2,297.7 597.6,296.5 598.1,296.3 598.5,296.6 599.0,296.6 599.4,295.2 599.9,295.7 600.3,295.3 600.8,295.4 601.2,296.3 601.7,295.8 602.1,295.3 602.6,295.4 603.0,295.3 603.5,296.7 603.9,296.8 604.4,296.9 604.8,296.4 605.3,296.3 605.7,296.9 606.2,296.0 606.6,297.4 607.1,296.9 607.5,297.4 608.0,297.8 608.4,297.4 608.9,297.9 609.3,298.6 609.8,299.8 610.2,299.7 610.7,300.5 611.1,300.4 611.6,299.3 612.0,299.0 612.5,297.8 612.9,297.5 613.4,297.6 613.8,297.8 614.3,297.3 614.7,296.0 615.2,296.8 615.6,296.5 616.1,296.0 616.5,295.4 617.0,295.7 617.4,295.7 617.9,295.8 618.3,295.6 618.8,296.6 619.2,296.3 619.7,296.7 620.1,296.9 620.6,297.7 621.0,297.4 621.5,297.7 621.9,298.1 622.4,298.3 622.8,298.5 623.3,298.3 623.7,299.3 624.2,300.3 624.6,299.5 625.1,300.1 625.5,299.3 626.0,299.1 626.4,299.3 626.9,299.6 627.3,300.1 627.8,299.4 628.2,299.6 628.7,300.7 629.1,301.3 629.6,303.1 630.0,302.6 630.5,302.2 630.9,303.1 631.4,301.5 631.8,301.2 632.3,303.3 632.7,302.5 633.2,302.4 633.6,302.1 634.1,301.5 634.5,301.5 635.0,300.8 635.4,301.7 635.9,301.9 636.3,301.9 636.8,300.8 637.2,299.5 637.7,299.5 638.1,299.0 638.6,299.5 639.0,298.6 639.5,298.6 639.9,299.1 640.4,299.7 640.8,300.0 641.3,299.6 641.7,299.9 642.2,301.8 642.6,302.4 643.1,302.0 643.5,303.2 644.0,302.8 644.4,302.7 644.9,302.3 645.3,303.4 645.8,303.4 646.2,303.4 646.7,303.0 647.1,302.8 647.6,303.6 648.0,303.8 648.5,304.6 648.9,303.7 649.4,303.4 649.8,304.0 650.3,304.1 650.7,303.3 651.2,303.9 651.6,303.7 652.1,303.7 652.5,303.2 653.0,303.2 653.4,302.2 653.9,301.7 654.3,302.0 654.8,301.6 655.2,301.2 655.7,301.2 656.1,300.7 656.6,300.8 657.0,299.6 657.5,300.1 657.9,301.1 658.4,300.9 658.8,301.2 659.3,301.8 659.7,302.1 660.2,302.9 660.6,303.3 661.1,303.1 661.5,303.7 662.0,303.3 662.4,302.9 662.9,303.4 663.3,303.8 663.8,303.7 664.2,303.0 664.7,303.0 665.1,303.4 665.6,303.9 666.0,304.7 666.5,304.0 666.9,303.7 667.4,302.4 667.8,303.7 668.3,304.1 668.7,303.9 669.2,303.3 669.6,302.0 670.1,303.1 670.5,302.8 671.0,303.9 671.4,304.0 671.9,304.3 672.3,303.6 672.8,304.0 673.2,302.8 673.7,303.9 674.1,303.6 674.6,302.9 675.0,303.0 675.5,302.7 675.9,303.3 676.4,302.9 676.8,302.4 677.3,302.5 677.7,302.6 678.2,302.9 678.6,303.2 679.1,303.7 679.5,303.5 680.0,304.0 680.4,302.1 680.9,302.4 681.3,303.1 681.8,302.2 682.2,302.4 682.7,302.8 683.1,302.0 683.6,302.2 684.0,303.0 684.5,302.9 684.9,303.9 685.4,304.7 685.8,303.7 686.3,302.6 686.7,302.2 687.2,301.0 687.6,299.5 688.1,299.0 688.5,298.6 689.0,298.3 689.4,298.6 689.9,298.9 690.3,298.7 690.8,298.2 691.2,298.4 691.7,298.2 692.1,298.2 692.6,297.5 693.0,296.1 693.5,297.6 693.9,297.5 694.4,297.6 694.8,297.9 695.3,298.0 695.7,298.1 696.2,299.2 696.6,299.2 697.1,299.3 697.5,298.8 698.0,298.6 698.4,298.8 698.9,298.4 699.3,298.2 699.8,297.1 700.2,297.1 700.7,296.1 701.1,295.7 701.6,295.3 702.0,295.9 702.5,296.7 702.9,296.8 703.4,296.3 703.8,296.6 704.3,297.2 704.7,297.4 705.2,297.3 705.6,296.4 706.1,296.3 706.5,296.0 707.0,295.9 707.4,296.2 707.9,296.1 708.3,295.8 708.8,296.1 709.2,295.5 709.7,295.5 710.1,295.6 710.6,294.9 711.0,294.7 711.5,294.5 711.9,294.5 712.4,295.1 712.8,295.4 713.3,295.9 713.7,296.3 714.2,295.9 714.6,297.4 715.1,298.1 715.5,297.2 716.0,296.9 716.4,296.2 716.9,295.9 717.3,295.6 717.8,295.1 718.2,293.5 718.7,295.6 719.1,295.5 719.6,295.3 720.0,294.2 720.5,293.8 720.9,293.8 721.4,292.8 721.8,293.5 722.3,293.3 722.7,294.2 723.2,293.8 723.6,294.5 724.1,292.7 724.5,292.5 725.0,291.3 725.4,289.7 725.9,289.1 726.3,287.5 726.8,286.8 727.2,285.6 727.7,283.8 728.1,282.5 728.6,280.3 729.0,280.2 729.5,279.2 729.9,278.3 730.4,277.8 730.8,277.1 731.3,275.9 731.7,275.5 732.2,274.3 732.6,273.8 733.1,274.0 733.5,274.2 734.0,274.1 734.4,274.4 734.9,273.4 735.3,273.1 735.8,272.0 736.2,271.3 736.7,269.7 737.1,268.5 737.6,267.2 738.0,267.3 738.5,268.3 738.9,268.5 739.4,268.7 739.8,268.6 740.3,269.9 740.7,269.9 741.2,272.6 741.6,273.5 742.1,272.5 742.5,270.2 743.0,268.2 743.4,269.2 743.9,269.4 744.3,270.0 744.8,271.0 745.2,272.2 745.7,273.1 746.1,273.4 746.6,273.8 747.0,274.4 747.5,275.1 747.9,275.5 748.4,274.9 748.8,273.6 749.3,273.1 749.7,273.1 750.2,271.8 750.6,271.2 751.1,271.6 751.5,272.1 752.0,271.5 752.4,270.8 752.9,270.0 753.3,270.2 753.8,270.1 754.2,270.6 754.7,271.2 755.1,271.5 755.6,271.5 756.0,270.1 756.5,269.0 756.9,269.3 757.4,268.3 757.8,266.0 758.3,264.8 758.7,263.1 759.2,262.3 759.6,261.5 760.1,261.0 760.5,259.8 761.0,258.8 761.4,259.1 761.9,258.5 762.3,258.9 762.8,257.2 763.2,256.3 763.7,254.3 764.1,255.0 764.6,255.1 765.0,254.2 765.5,252.9 765.9,250.8 766.4,249.7 766.8,249.2 767.3,249.6 767.7,248.5 768.2,246.4 768.6,245.3 769.1,244.1 769.9,241.4"/>
<rect x="340.5" y="403.5" width="113" height="28" rx="4" ry="4" fill="none" stroke="#909090" stroke-width="1"/>
<line x1="348" x2="364" y1="417" y2="417" stroke="#4371c2" stroke-width="2"/>
<text x="369" y="421.8" class="lg">策略</text>
<line x1="401" x2="417" y1="417" y2="417" stroke="#131a26" stroke-width="2"/>
<text x="422" y="421.8" class="lg">基准</text>
</svg>
</body></html>
